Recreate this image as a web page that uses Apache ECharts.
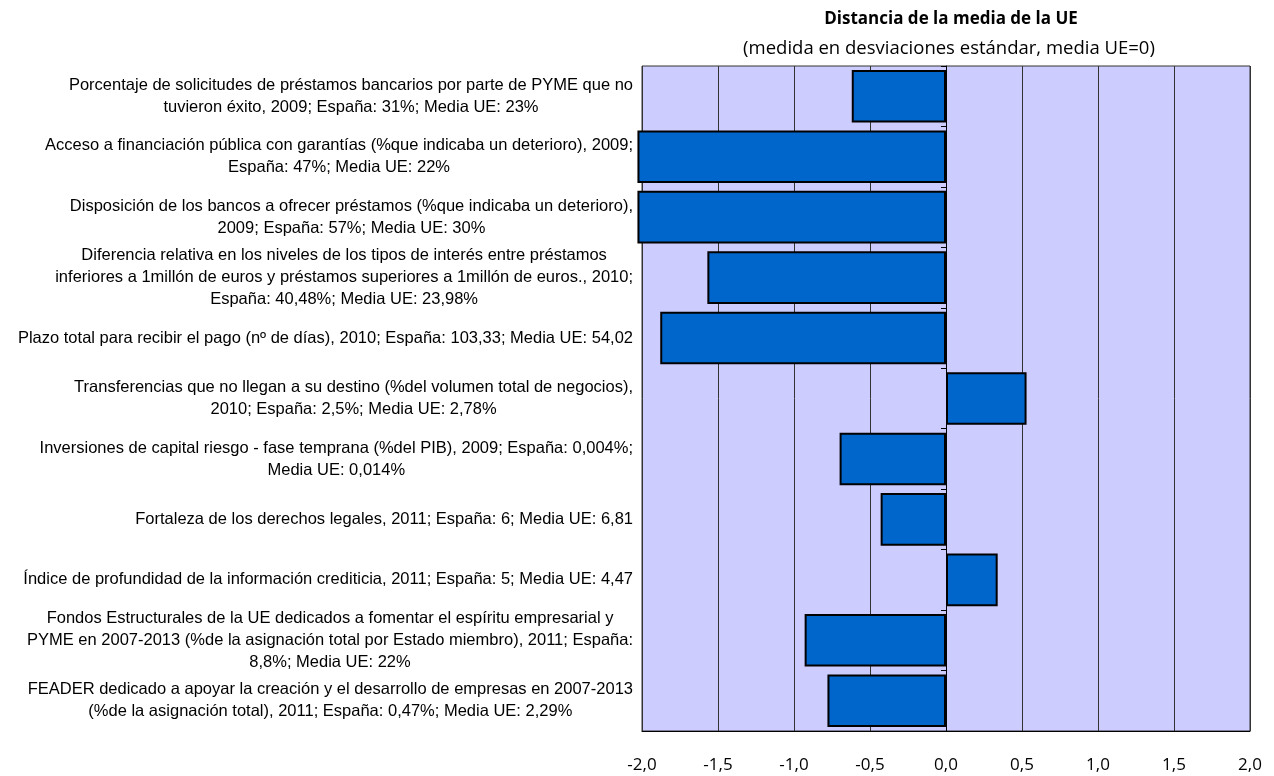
<!DOCTYPE html>
<html>
<head>
<meta charset="utf-8">
<script src="https://cdn.jsdelivr.net/npm/echarts@6/dist/echarts.min.js"></script>
<style>
html,body{margin:0;padding:0;background:#fff;}
#c{width:1274px;height:776px;}
</style>
</head>
<body>
<div id="c"></div>
<script>
var categories = [
  "Porcentaje de solicitudes de préstamos bancarios por parte de PYME que no\ntuvieron éxito, 2009; España: 31%; Media UE: 23%",
  "Acceso a financiación pública con garantías (%que indicaba un deterioro), 2009;\nEspaña: 47%; Media UE: 22%",
  "Disposición de los bancos a ofrecer préstamos (%que indicaba un deterioro),\n2009; España: 57%; Media UE: 30%",
  "Diferencia relativa en los niveles de los tipos de interés entre préstamos\ninferiores a 1millón de euros y préstamos superiores a 1millón de euros., 2010;\nEspaña: 40,48%; Media UE: 23,98%",
  "Plazo total para recibir el pago (nº de días), 2010; España: 103,33; Media UE: 54,02",
  "Transferencias que no llegan a su destino (%del volumen total de negocios),\n2010; España: 2,5%; Media UE: 2,78%",
  "Inversiones de capital riesgo - fase temprana (%del PIB), 2009; España: 0,004%;\nMedia UE: 0,014%",
  "Fortaleza de los derechos legales, 2011; España: 6; Media UE: 6,81",
  "Índice de profundidad de la información crediticia, 2011; España: 5; Media UE: 4,47",
  "Fondos Estructurales de la UE dedicados a fomentar el espíritu empresarial y\nPYME en 2007-2013 (%de la asignación total por Estado miembro), 2011; España:\n8,8%; Media UE: 22%",
  "FEADER dedicado a apoyar la creación y el desarrollo de empresas en 2007-2013\n(%de la asignación total), 2011; España: 0,47%; Media UE: 2,29%"
];
var values = [-0.62, -2.03, -2.03, -1.57, -1.88, 0.53, -0.70, -0.43, 0.34, -0.93, -0.78];
var titleText = "Distancia de la media de la UE";
var subtitleText = "(medida en desviaciones estándar, media UE=0)";

var chart = echarts.init(document.getElementById('c'));
var labelFont = "'Liberation Sans Narrow', 'Arial Narrow', 'Liberation Sans', Arial, sans-serif";
var uiFont = "'Open Sans', 'Noto Sans', sans-serif";

chart.setOption({
  animation: false,
  backgroundColor: '#ffffff',
  title: [
    { text: titleText, left: 946, top: 6, textAlign: 'center',
      textStyle: { fontFamily: uiFont, fontSize: 17, fontWeight: 'bold', color: '#000' } },
    { text: subtitleText, left: 944, top: 34, textAlign: 'center',
      textStyle: { fontFamily: uiFont, fontSize: 18.5, fontWeight: 'normal', color: '#000' } }
  ],
  grid: {
    left: 642, right: 24, top: 66, bottom: 45,
    show: true, backgroundColor: '#CCCCFF', borderColor: '#333', borderWidth: 1,
    containLabel: false, outerBoundsMode: 'none'
  },
  xAxis: {
    type: 'value', min: -2, max: 2, interval: 0.5,
    axisLine: { show: true, onZero: false, lineStyle: { color: '#000', width: 1 } },
    axisTick: { show: false },
    splitLine: { show: true, lineStyle: { color: '#333', width: 1 } },
    axisLabel: {
      margin: 26, fontFamily: uiFont, fontSize: 17, color: '#000',
      formatter: function (v) { return v.toFixed(1).replace('.', ','); }
    }
  },
  yAxis: [
    {
      type: 'category', data: categories, inverse: true,
      axisLine: { show: false, onZero: false },
      axisTick: { show: false },
      axisLabel: {
        margin: 9, color: '#000',
        formatter: function (v) {
          return v.split('\n').map(function (l) { return '{c|' + l + '}'; }).join('\n');
        },
        rich: {
          c: { align: 'center', fontFamily: labelFont, fontSize: 16.5, lineHeight: 22, color: '#000' }
        }
      }
    },
    {
      type: 'category', data: categories, inverse: true, position: 'left',
      axisLine: { show: true, onZero: true, lineStyle: { color: '#000', width: 1 } },
      axisTick: { show: true, length: 5, inside: false, lineStyle: { color: '#000' } },
      axisLabel: { show: false },
      splitLine: { show: false }
    }
  ],
  series: [{
    type: 'bar',
    data: values,
    yAxisIndex: 0,
    barCategoryGap: '13%',
    clip: false,
    itemStyle: { color: '#0066CC', borderColor: '#000', borderWidth: 2 },
    z: 3
  }]
});
</script>
</body>
</html>
